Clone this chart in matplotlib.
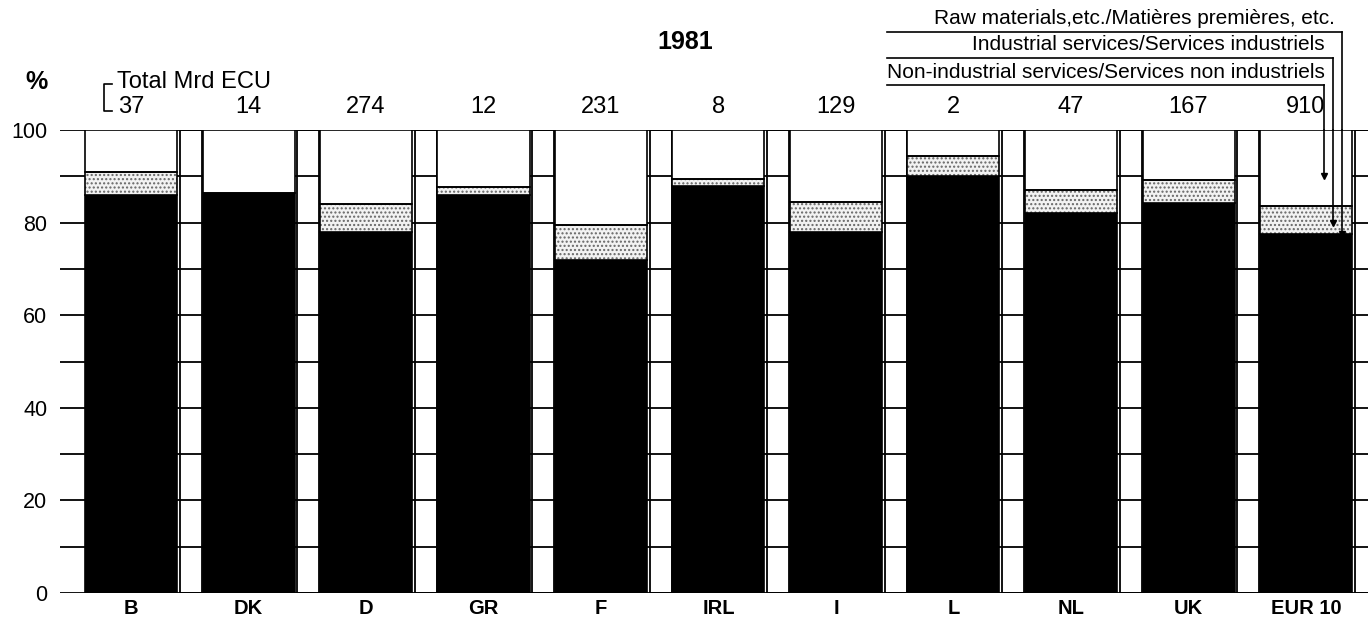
import matplotlib
matplotlib.use("Agg")
import matplotlib.pyplot as plt
from matplotlib.lines import Line2D
import numpy as np

plt.rcParams['font.family'] = ['Liberation Sans', 'DejaVu Sans']
plt.rcParams['hatch.linewidth'] = 1.0

# ---- data ----
countries = ["B", "DK", "D", "GR", "F", "IRL", "I", "L", "NL", "UK", "EUR 10"]
totals = ["37", "14", "274", "12", "231", "8", "129", "2", "47", "167", "910"]
raw_materials = [86.0, 86.5, 78.0, 86.0, 72.0, 88.0, 78.0, 90.0, 82.0, 84.2, 77.5]
industrial = [5.0, 0.0, 6.0, 1.7, 7.5, 1.5, 6.5, 4.3, 5.0, 5.0, 6.0]
non_industrial = [100 - r - s for r, s in zip(raw_materials, industrial)]
yticks = [0, 20, 40, 60, 80, 100]
title = "1981"
legend_labels = ["Raw materials,etc./Matières premières, etc.",
                 "Industrial services/Services industriels",
                 "Non-industrial services/Services non industriels"]

W, H = 1368, 621
fig = plt.figure(figsize=(W / 100, H / 100), dpi=100)
ax_left, ax_right, ax_top, ax_bot = 60, 1368, 130, 593
ax = fig.add_axes([ax_left / W, (H - ax_bot) / H, (ax_right - ax_left) / W, (ax_bot - ax_top) / H])

unit = 117.5
c0 = 131
ax.set_xlim((ax_left - c0) / unit, (ax_right - c0) / unit)
ax.set_ylim(0, 100)

x = np.arange(len(countries))
bw = 92 / unit
gw = 22 / unit

# grid lines
ax.set_yticks(yticks)
ax.set_yticks(np.arange(10, 100, 20), minor=True)
ax.yaxis.grid(True, which='both', color='black', lw=1.3)
ax.set_axisbelow(True)
ax.tick_params(axis='y', which='both', length=0, pad=9, labelsize=15.5)
ax.set_yticklabels([str(t) for t in yticks])
for s in ax.spines.values():
    s.set_visible(False)

# gap columns
ax.bar(x + 0.51, 100, width=gw, facecolor='none', edgecolor='black', lw=1.3, zorder=1.5)

# stacked bars
ax.bar(x, raw_materials, width=bw, color='black', edgecolor='black', lw=1.2, zorder=2)
ax.bar(x, industrial, bottom=raw_materials, width=bw, facecolor='#f2f2f2',
       edgecolor='#666666', hatch='....', lw=0, zorder=2)
ax.bar(x, industrial, bottom=raw_materials, width=bw, facecolor='none',
       edgecolor='black', lw=1.2, zorder=2.1)
bot2 = [r + s for r, s in zip(raw_materials, industrial)]
ax.bar(x, non_industrial, bottom=bot2, width=bw, facecolor='white',
       edgecolor='black', lw=1.2, zorder=2)

# x labels
ax.set_xticks(x)
ax.set_xticklabels(countries, fontweight='bold', fontsize=14.5)
ax.tick_params(axis='x', length=0, pad=4)

def fx(p):
    return p / W

def fy(p):
    return 1 - p / H

# totals
for xi, t in zip(x, totals):
    fig.text(fx(c0 + xi * unit), fy(107), t, ha='center', va='center', fontsize=17)

fig.text(fx(36), fy(82), "%", ha='center', va='center', fontsize=18, fontweight='bold')
fig.text(fx(117), fy(82), "Total Mrd ECU", ha='left', va='center', fontsize=17)
# bracket
fig.add_artist(Line2D([fx(112), fx(104), fx(104), fx(112)], [fy(84), fy(84), fy(111), fy(111)],
                      color='black', lw=1.2))
fig.text(fx(685), fy(42), title, ha='center', va='center', fontsize=18, fontweight='bold')

# legend labels with leader lines
inv = ax.transData.inverted()
def data_x(p):
    return inv.transform((p, 0))[0]

targets = [raw_materials[-1], 80, 90]
text_y = [19, 45, 72]
line_y = [32, 58, 85]
text_right = [1335, 1325, 1325]
vx = [1342, 1333, 1324]
for lab, ty, ly, tr, vxx, tgt in zip(legend_labels, text_y, line_y, text_right, vx, targets):
    fig.text(fx(tr), fy(ty), lab, ha='right', va='center', fontsize=15)
    fig.add_artist(Line2D([fx(887), fx(vxx)], [fy(ly), fy(ly)], color='black', lw=1.2))
    fig.add_artist(Line2D([fx(vxx), fx(vxx)], [fy(ly), fy(ax_top)], color='black', lw=1.2))
    ax.plot([data_x(vxx), data_x(vxx)], [100, tgt], color='black', lw=1.2, zorder=3, clip_on=False)
    ax.plot([data_x(vxx)], [tgt], marker='v', ms=4, color='black', zorder=3, clip_on=False)

fig.savefig("out.png", dpi=100)
